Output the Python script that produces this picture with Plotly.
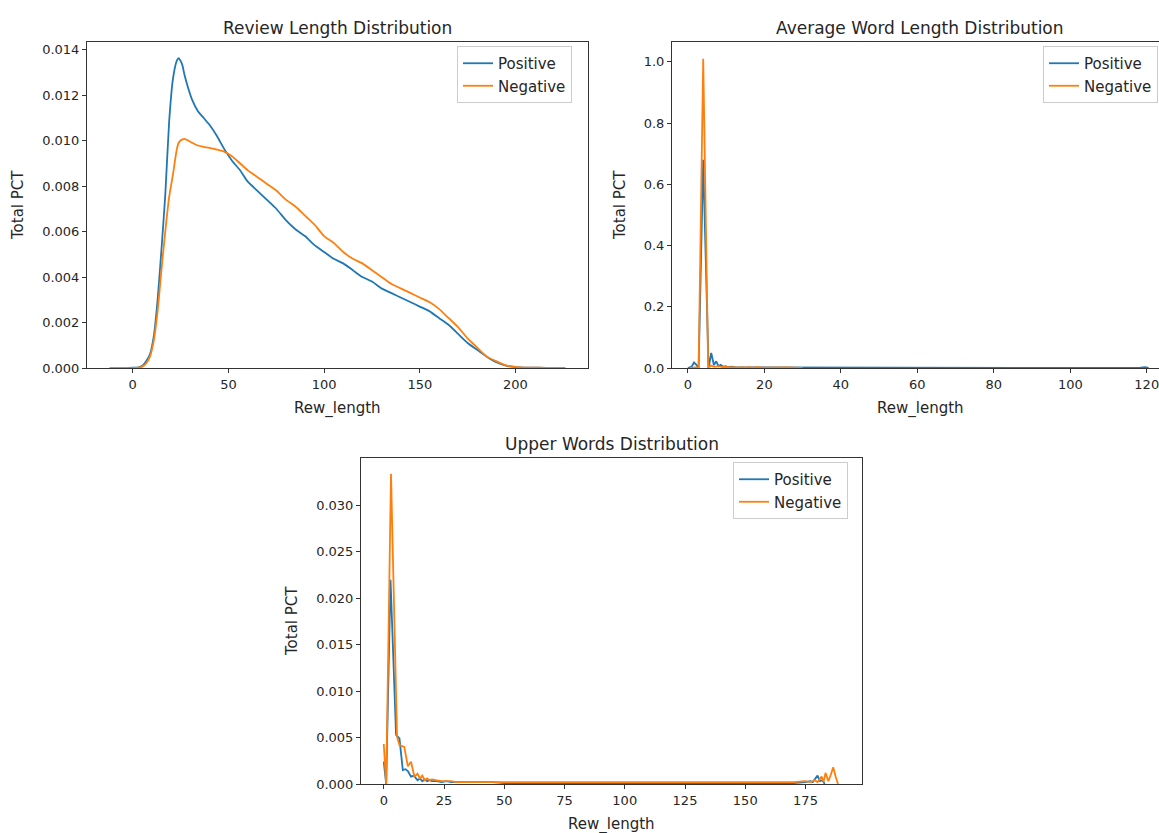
import plotly.graph_objects as go

W, H = 1159, 833

BLUE = "#1f77b4"
ORANGE = "#ff7f0e"
TEXT = "#262626"
FONT = "DejaVu Sans"

# ---- Review length density (KDE curves) ----
rl_x = [-12, -5, 0, 3, 5, 7, 9, 11, 13, 15, 17, 19, 21, 23, 24, 25, 26, 27, 29, 31,
        34, 37, 40, 44, 48, 52, 56, 60, 65, 70, 75, 80, 85, 90, 95, 100, 105, 110,
        115, 120, 125, 130, 135, 140, 145, 150, 155, 160, 165, 170, 175, 180, 185,
        190, 195, 200, 205, 212, 220, 226]
rl_pos = [0, 0, 0.00001, 0.00003, 0.0001, 0.0003, 0.0006, 0.0014, 0.0030, 0.0052,
          0.0076, 0.0108, 0.0127, 0.0135, 0.01362, 0.0135, 0.0133, 0.0129, 0.0123,
          0.0118, 0.0113, 0.0110, 0.0107, 0.0102, 0.0096, 0.0091, 0.0087, 0.0082,
          0.0078, 0.0074, 0.0070, 0.0065, 0.0061, 0.0058, 0.0054, 0.0051, 0.0048,
          0.0046, 0.0043, 0.0040, 0.0038, 0.0035, 0.0033, 0.0031, 0.0029, 0.0027,
          0.0025, 0.0022, 0.0019, 0.0015, 0.0011, 0.0008, 0.0005, 0.00025, 0.0001,
          0.00004, 0.00002, 0.00001, 0, 0]
rl_neg = [0, 0, 0, 0.00002, 0.00006, 0.0002, 0.0005, 0.0012, 0.0025, 0.0043, 0.0060,
          0.0075, 0.0085, 0.0096, 0.0099, 0.0100, 0.01005, 0.01007, 0.0100, 0.0099,
          0.00978, 0.00972, 0.00968, 0.0096, 0.0095, 0.0093, 0.0090, 0.0087, 0.0084,
          0.0081, 0.0078, 0.0074, 0.0071, 0.0067, 0.0063, 0.0058, 0.0055, 0.0051,
          0.0048, 0.0046, 0.0043, 0.0040, 0.0037, 0.0035, 0.0033, 0.0031, 0.0029,
          0.0026, 0.0022, 0.0018, 0.0013, 0.0009, 0.0005, 0.0003, 0.00012, 0.00005,
          0.00002, 0.00001, 0, 0]

# ---- Average word length density ----
aw_x_pos = [0.0, 1.0, 1.6, 2.1, 2.8, 4.0, 5.4, 6.1, 6.8, 7.4, 8.0, 8.6, 9.2, 9.8,
            10.5, 11.5, 12.5, 14, 16, 18, 20, 25, 30, 40, 50, 60, 70, 80, 90, 100,
            110, 118, 119.5, 120.5]
aw_pos = [0.0, 0.005, 0.018, 0.012, 0.0, 0.68, 0.0, 0.049, 0.010, 0.022, 0.006,
          0.010, 0.004, 0.006, 0.003, 0.004, 0.002, 0.002, 0.0015, 0.001, 0.0008,
          0.0005, 0.0004, 0.0003, 0.0002, 0.0002, 0.0001, 0.0001, 0.0001, 0.0001,
          0.0001, 0.0001, 0.003, 0.0]
aw_x_neg = [0.5, 2.0, 2.8, 4.0, 5.3, 6.0, 7.0, 8.0, 9.0, 10.0, 11.0, 12.0, 13.0,
            14.0, 15.0, 16.0, 17.0, 18.0, 20.0, 22.0, 24.0, 26.0, 28.0, 30.0]
aw_neg = [0.0, 0.002, 0.0, 1.01, 0.0, 0.008, 0.004, 0.006, 0.003, 0.004, 0.002,
          0.003, 0.001, 0.003, 0.001, 0.003, 0.001, 0.003, 0.001, 0.002, 0.001,
          0.002, 0.001, 0.0]

# ---- Upper-case words density ----
uw_x_pos = [0, 1, 2.8, 5.1, 6.5, 7.9, 9, 10, 11.3, 12.5, 14, 15, 16, 17, 18, 19, 20,
            22, 24, 26, 28, 30, 35, 40, 45, 50, 60, 70, 80, 90, 100, 110, 120, 130,
            140, 150, 160, 170, 175, 177, 178, 179, 180, 181, 182, 183]
uw_pos = [0.0024, 0.0, 0.0220, 0.0053, 0.0049, 0.0015, 0.0016, 0.0014, 0.0008,
          0.0009, 0.0004, 0.0006, 0.0003, 0.0005, 0.0003, 0.0004, 0.0003, 0.0003,
          0.0002, 0.0003, 0.0002, 0.0002, 0.0002, 0.00015, 0.0002, 0.0001, 0.0001,
          0.0001, 0.0001, 0.0001, 0.0001, 0.0001, 0.0001, 0.0001, 0.0001, 0.0001,
          0.0001, 0.0001, 0.0002, 0.0003, 0.0002, 0.0005, 0.0009, 0.0003, 0.0004, 0.0]
uw_x_neg = [0, 1, 3, 5.5, 6.5, 7.5, 8.5, 10, 11.3, 12.7, 14, 15, 16, 17, 18, 19, 20,
            22, 24, 26, 28, 30, 35, 40, 45, 50, 60, 70, 80, 90, 100, 110, 120,
            130, 140, 150, 160, 170, 175, 177, 179, 180, 181.7, 182.5,
            183.3, 184.5, 185.5, 186.5, 187.5, 188.5]
uw_neg = [0.0043, 0.0, 0.0334, 0.0051, 0.0042, 0.0041, 0.0040, 0.0019, 0.0024,
          0.0008, 0.0011, 0.0006, 0.0009, 0.0004, 0.0006, 0.0004, 0.0005, 0.0004,
          0.0003, 0.0003, 0.0003, 0.0002, 0.0002, 0.0002, 0.00015, 0.00015, 0.00015,
          0.00015, 0.00015, 0.00015, 0.00015, 0.00015, 0.00015, 0.00015, 0.00015,
          0.00015, 0.00015, 0.0002, 0.0003, 0.0002, 0.0004, 0.0002,
          0.0008, 0.0002, 0.0012, 0.0003, 0.0010, 0.0018, 0.0008, 0.0]

titles = ["Review Length Distribution", "Average Word Length Distribution",
          "Upper Words Distribution"]
series_names = ["Positive", "Negative"]

# pixel boxes of the three panels: (left, right, top, bottom)
boxes = [(87, 588, 42, 368), (672, 1159, 42, 368), (361, 862, 458, 784)]
# horizontal gap between the y-axis line and the "Total PCT" label
ylabel_gap = [69, 52, 69]


def px_x(p):
    return p / W


def px_y(p):
    return 1 - p / H


fig = go.Figure()

panels = [
    (rl_x, rl_pos, rl_x, rl_neg, "spline"),
    (aw_x_pos, aw_pos, aw_x_neg, aw_neg, "linear"),
    (uw_x_pos, uw_pos, uw_x_neg, uw_neg, "linear"),
]
legend_ids = ["legend", "legend2", "legend3"]

for i, (xp, yp, xn, yn, shape) in enumerate(panels):
    ax = "" if i == 0 else str(i + 1)
    for xs, ys, name, col in [(xp, yp, series_names[0], BLUE),
                              (xn, yn, series_names[1], ORANGE)]:
        fig.add_trace(go.Scatter(
            x=xs, y=ys, mode="lines", name=name,
            line=dict(color=col, width=1.8, shape=shape,
                      smoothing=0.6 if shape == "spline" else None),
            xaxis="x" + ax, yaxis="y" + ax, legend=legend_ids[i],
        ))

axis_common = dict(
    showline=True, linecolor="#333333", linewidth=1, ticks="outside",
    ticklen=4, tickwidth=1, tickcolor="#333333", showgrid=False, zeroline=False,
    tickfont=dict(family=FONT, size=13, color=TEXT), ticklabeloverflow="allow",
)

x_ranges = [[-23.9, 237.9], [-4.16, 123.2], [-9.45, 198.45]]
y_ranges = [[0, 0.01433], [0, 1.065], [0, 0.0351]]
x_ticks = [[0, 50, 100, 150, 200], [0, 20, 40, 60, 80, 100, 120],
           [0, 25, 50, 75, 100, 125, 150, 175]]
y_ticks = [[0.000, 0.002, 0.004, 0.006, 0.008, 0.010, 0.012, 0.014],
           [0.0, 0.2, 0.4, 0.6, 0.8, 1.0],
           [0.000, 0.005, 0.010, 0.015, 0.020, 0.025, 0.030]]
y_fmt = [".3f", ".1f", ".3f"]

layout = dict(
    width=W, height=H,
    margin=dict(l=0, r=0, t=0, b=0, autoexpand=False),
    paper_bgcolor="white", plot_bgcolor="white",
    font=dict(family=FONT, size=13, color=TEXT),
)

annotations = []
legend_pos = [(457, 46), (1043, 46), (733, 462)]

for i, (l, r, t, b) in enumerate(boxes):
    ax = "" if i == 0 else str(i + 1)
    layout["xaxis" + ax] = dict(
        axis_common, domain=[px_x(l), px_x(r)], range=x_ranges[i],
        tickvals=x_ticks[i], anchor="y" + ax, mirror=True,
    )
    layout["yaxis" + ax] = dict(
        axis_common, domain=[px_y(b), px_y(t)], range=y_ranges[i],
        tickvals=y_ticks[i], tickformat=y_fmt[i], anchor="x" + ax,
        mirror=(i != 1),
    )
    cx = (l + r) / 2 if i != 1 else 920
    annotations.append(dict(
        text=titles[i], x=px_x(cx), y=px_y(t - 14), xref="paper", yref="paper",
        showarrow=False, font=dict(family=FONT, size=17, color=TEXT),
        xanchor="center", yanchor="middle",
    ))
    annotations.append(dict(
        text="Rew_length", x=px_x(cx), y=px_y(b + 40), xref="paper", yref="paper",
        showarrow=False, font=dict(family=FONT, size=15, color=TEXT),
        xanchor="center", yanchor="middle",
    ))
    annotations.append(dict(
        text="Total PCT", x=px_x(l - ylabel_gap[i]), y=px_y((t + b) / 2),
        xref="paper", yref="paper", showarrow=False, textangle=-90,
        font=dict(family=FONT, size=15, color=TEXT),
        xanchor="center", yanchor="middle",
    ))
    lx, ly = legend_pos[i]
    layout[legend_ids[i]] = dict(
        x=px_x(lx), y=px_y(ly), xanchor="left", yanchor="top",
        xref="paper", yref="paper",
        bgcolor="rgba(255,255,255,0.8)", bordercolor="#cccccc", borderwidth=1,
        font=dict(family=FONT, size=15, color=TEXT),
    )

layout["annotations"] = annotations
fig.update_layout(**layout)

fig.write_html("out.html")
